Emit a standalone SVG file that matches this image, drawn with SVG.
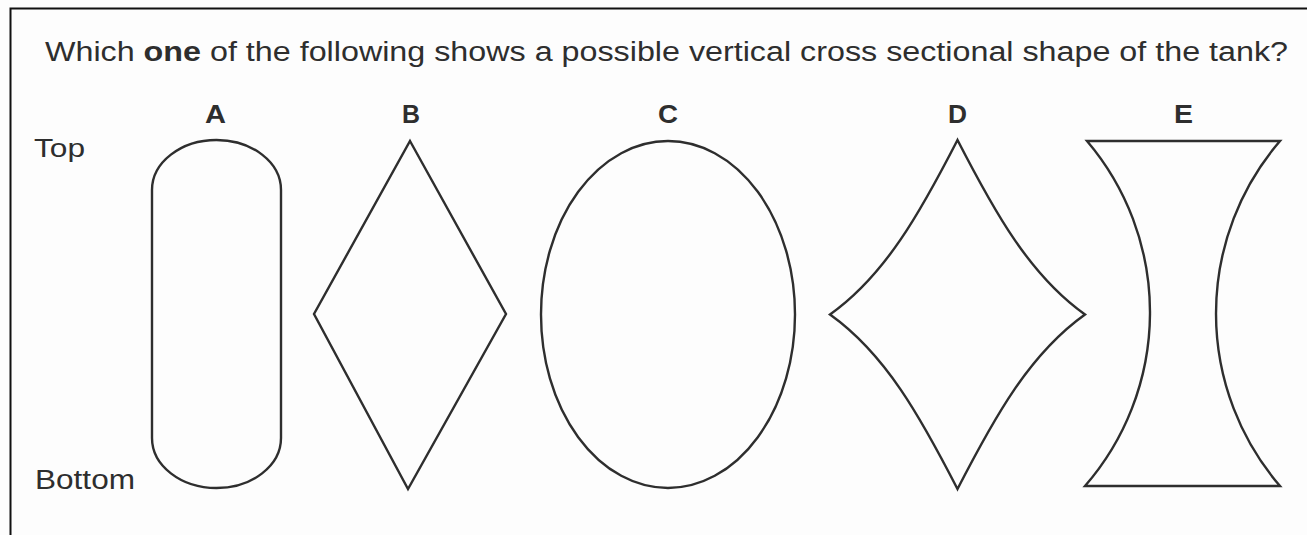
<svg xmlns="http://www.w3.org/2000/svg" width="1307" height="535" viewBox="0 0 1307 535">
<style>
.txt{font-family:"Liberation Sans",Arial,sans-serif;fill:#2e2e2e}
.lbl{font-family:"Liberation Sans",Arial,sans-serif;font-weight:bold;font-size:25px;fill:#2e2e2e;text-anchor:middle}
.shape{fill:none;stroke:#2e2e2e;stroke-width:2.4;stroke-linejoin:miter}
</style>
<rect x="0" y="0" width="1307" height="535" fill="#fdfdfd"/>
<path d="M10.5,535 V8.5 H1307" fill="none" stroke="#111" stroke-width="2"/>
<text class="txt" x="45" y="61" font-size="27" textLength="1243" lengthAdjust="spacingAndGlyphs">Which <tspan font-weight="bold">one</tspan> of the following shows a possible vertical cross sectional shape of the tank?</text>
<text class="txt" x="34" y="157" font-size="26" textLength="51" lengthAdjust="spacingAndGlyphs">Top</text>
<text class="txt" x="35" y="489" font-size="27" textLength="100" lengthAdjust="spacingAndGlyphs">Bottom</text>
<g id="nodeA">
<text class="lbl" x="215.5" y="123" textLength="21" lengthAdjust="spacingAndGlyphs">A</text>
<path class="shape" d="M152,190 A64.5,50 0 0 1 281,190 V438 A64.5,50 0 0 1 152,438 Z"/>
</g>
<g id="nodeB">
<text class="lbl" x="411" y="123" textLength="18" lengthAdjust="spacingAndGlyphs">B</text>
<path class="shape" d="M410,141 L506,314 L408,489 L314,314 Z"/>
</g>
<g id="nodeC">
<text class="lbl" x="668" y="123" textLength="20" lengthAdjust="spacingAndGlyphs">C</text>
<ellipse class="shape" cx="668" cy="314.5" rx="127" ry="173.5"/>
</g>
<g id="nodeD">
<text class="lbl" x="957.5" y="123" textLength="19" lengthAdjust="spacingAndGlyphs">D</text>
<path class="shape" d="M957.5,140 C920.5,212 885.5,275 830,314.5 C885.5,354 920.5,417 957.5,489 C994.5,417 1029.5,354 1085,314.5 C1029.5,275 994.5,212 957.5,140 Z"/>
</g>
<g id="nodeE">
<text class="lbl" x="1183.5" y="123" textLength="19" lengthAdjust="spacingAndGlyphs">E</text>
<path class="shape" d="M1087,141 H1280 A264.5,264.5 0 0 0 1280,486 H1085 A264.5,264.5 0 0 0 1087,141 Z"/>
</g>
<g id="connectors"></g>
</svg>
